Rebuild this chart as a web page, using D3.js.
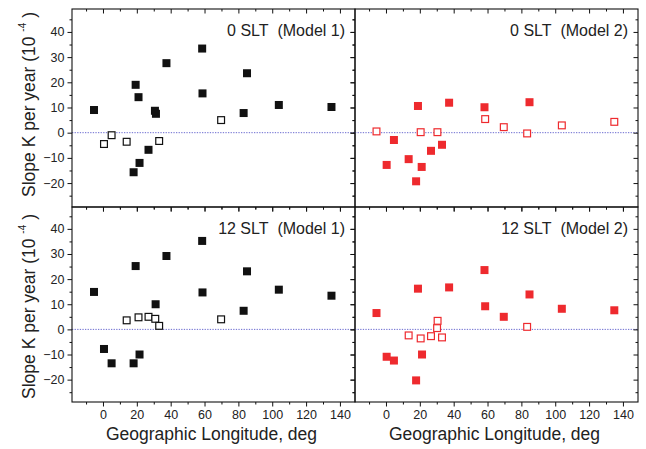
<!DOCTYPE html>
<html>
<head>
<meta charset="utf-8">
<script src="https://cdn.jsdelivr.net/npm/d3@7"></script>
<style>
  body { margin: 0; background: #fff; }
  svg { display: block; font-family: "Liberation Sans", Arial, sans-serif; }
  text { fill: #222; }
</style>
</head>
<body>
<script>
var w = 646;
var h = 449;

// axis ticks
var xTicks = [0, 20, 40, 60, 80, 100, 120, 140];
var xMinor = [-10, 10, 30, 50, 70, 90, 110, 130];
var yTicks = [-20, -10, 0, 10, 20, 30, 40];
var yMinor = [-25, -15, -5, 5, 15, 25, 35, 45];

// 0 SLT, Model 1
var lonA = [-5.3, 19.3, 21.0, 37.5, 58.6, 58.8, 30.7, 31.3, 85.1, 83.1, 103.9, 135, 26.9, 21.6, 18.1];
var kA = [9.0, 19.0, 14.1, 27.6, 33.4, 15.6, 8.7, 7.5, 23.6, 7.8, 11.0, 10.2, -6.8, -12.0, -15.7];
var lonAo = [0.6, 5.1, 14.0, 33.2, 69.8];
var kAo = [-4.5, -1.0, -3.6, -3.3, 5.0];

// 0 SLT, Model 2
var lonB = [18.9, 37.3, 58.2, 84.8, 4.7, 0.4, 13.4, 21.1, 17.8, 26.6, 33.1];
var kB = [10.6, 11.9, 10.1, 12.1, -2.9, -12.8, -10.5, -13.6, -19.3, -7.2, -4.8];
var lonBo = [-5.6, 20.5, 30.4, 58.6, 69.6, 83.4, 103.9, 134.9];
var kBo = [0.5, 0.2, 0.2, 5.4, 2.2, -0.3, 2.9, 4.3];

// 12 SLT, Model 1
var lonC = [-5.3, 19.3, 37.5, 58.6, 58.8, 85.1, 83.1, 103.9, 135, 31.1, 0.6, 5.1, 18.1, 21.6];
var kC = [14.9, 25.2, 29.2, 35.2, 14.7, 23.1, 7.4, 15.8, 13.4, 10.0, -7.8, -13.5, -13.5, -10.0];
var lonCo = [14.0, 21.0, 26.9, 30.9, 33.2, 69.8];
var kCo = [3.6, 4.8, 5.0, 4.2, 1.4, 4.0];

// 12 SLT, Model 2
var lonD = [-5.6, 18.9, 37.3, 58.2, 58.6, 69.6, 84.8, 103.9, 134.9, 0.4, 4.7, 21.3, 17.8];
var kD = [6.5, 16.2, 16.7, 23.6, 9.2, 5.0, 13.9, 8.2, 7.6, -10.9, -12.4, -10.0, -20.3];
var lonDo = [13.4, 20.5, 26.6, 30.5, 30.2, 33.1, 83.4];
var kDo = [-2.4, -3.6, -2.7, 3.4, 0.5, -3.2, 1.0];

var titles = ["0 SLT\u00a0 (Model 1)", "0 SLT\u00a0 (Model 2)", "12 SLT\u00a0 (Model 1)", "12 SLT\u00a0 (Model 2)"];

function pts(lon, k) {
  return lon.map(function (d, i) { return { x: d, y: k[i] }; });
}

var panels = [
  { title: titles[0], col: 0, row: 0, color: "#111", filled: pts(lonA, kA), open: pts(lonAo, kAo) },
  { title: titles[1], col: 1, row: 0, color: "#ee2a2e", filled: pts(lonB, kB), open: pts(lonBo, kBo) },
  { title: titles[2], col: 0, row: 1, color: "#111", filled: pts(lonC, kC), open: pts(lonCo, kCo) },
  { title: titles[3], col: 1, row: 1, color: "#ee2a2e", filled: pts(lonD, kD), open: pts(lonDo, kDo) }
];

var colX = [[72, 355], [355, 638]];
var rowY = [[9, 207], [207, 402]];
var rowDomain = [[-29.5, 49.1], [-28.9, 48.7]];
var labelMid = [104.5, 306.5];

var svg = d3.select("body").append("svg").attr("width", w).attr("height", h);

function ticksOn(g, axis, vals, size) {
  g.call(axis.tickValues(vals).tickSize(size).tickFormat(""));
  g.select(".domain").remove();
  g.selectAll(".tick line").attr("stroke", "#111");
}

panels.forEach(function (p) {
  var x0 = colX[p.col][0], x1 = colX[p.col][1];
  var y0 = rowY[p.row][0], y1 = rowY[p.row][1];
  var x = d3.scaleLinear().domain([-18.3, 148.9]).range([x0, x1]);
  var y = d3.scaleLinear().domain(rowDomain[p.row]).range([y1, y0]);
  var g = svg.append("g");

  // zero line
  g.append("line")
    .attr("x1", x0).attr("x2", x1)
    .attr("y1", y(0)).attr("y2", y(0))
    .attr("stroke", "#6b6bd0")
    .attr("stroke-width", 1)
    .attr("stroke-dasharray", "1.3,1.3");

  // ticks: left/bottom outward, top/right inward
  var bottom = g.append("g").attr("transform", "translate(0," + y1 + ")");
  ticksOn(bottom.append("g"), d3.axisBottom(x), xTicks, 4.5);
  ticksOn(bottom.append("g"), d3.axisBottom(x), xMinor, 2.5);
  var top = g.append("g").attr("transform", "translate(0," + y0 + ")");
  ticksOn(top.append("g"), d3.axisTop(x), xTicks, -4.5);
  ticksOn(top.append("g"), d3.axisTop(x), xMinor, -2.5);
  var left = g.append("g").attr("transform", "translate(" + x0 + ",0)");
  ticksOn(left.append("g"), d3.axisLeft(y), yTicks, 4.5);
  ticksOn(left.append("g"), d3.axisLeft(y), yMinor, 2.5);
  var right = g.append("g").attr("transform", "translate(" + x1 + ",0)");
  ticksOn(right.append("g"), d3.axisRight(y), yTicks, -4.5);
  ticksOn(right.append("g"), d3.axisRight(y), yMinor, -2.5);

  // tick labels
  if (p.col === 0) {
    var yl = g.append("g").attr("transform", "translate(" + x0 + ",0)")
      .call(d3.axisLeft(y).tickValues(yTicks).tickSize(4.5).tickPadding(3));
    yl.select(".domain").remove();
    yl.selectAll(".tick line").remove();
    yl.selectAll("text").attr("font-size", 12.5).attr("font-family", null).attr("fill", "#222");
  }
  if (p.row === 1) {
    var xl = g.append("g").attr("transform", "translate(0," + y1 + ")")
      .call(d3.axisBottom(x).tickValues(xTicks).tickSize(4.5).tickPadding(3.5));
    xl.select(".domain").remove();
    xl.selectAll(".tick line").remove();
    xl.selectAll("text").attr("font-size", 12.5).attr("font-family", null).attr("fill", "#222");
  }

  // frame
  g.append("rect")
    .attr("x", x0).attr("y", y0)
    .attr("width", x1 - x0).attr("height", y1 - y0)
    .attr("fill", "none").attr("stroke", "#111").attr("stroke-width", 1.1);

  // markers
  g.selectAll(".filled")
    .data(p.filled)
    .enter()
    .append("rect")
    .attr("x", function (d) { return x(d.x) - 4; })
    .attr("y", function (d) { return y(d.y) - 4; })
    .attr("width", 8)
    .attr("height", 8)
    .attr("fill", p.color);

  g.selectAll(".open")
    .data(p.open)
    .enter()
    .append("rect")
    .attr("x", function (d) { return x(d.x) - 3.4; })
    .attr("y", function (d) { return y(d.y) - 3.4; })
    .attr("width", 6.8)
    .attr("height", 6.8)
    .attr("fill", "#fff")
    .attr("stroke", p.color)
    .attr("stroke-width", 1.2);

  // panel title
  g.append("text")
    .attr("x", x1 - 10)
    .attr("y", y0 + 26.5)
    .attr("text-anchor", "end")
    .attr("font-size", 16)
    .text(p.title);

  // axis titles
  if (p.row === 1) {
    g.append("text")
      .attr("x", (x0 + x1) / 2 - 2)
      .attr("y", 439.5)
      .attr("text-anchor", "middle")
      .attr("font-size", 17.5)
      .text("Geographic Longitude, deg");
  }
  if (p.col === 0) {
    var t = g.append("text")
      .attr("transform", "translate(35," + labelMid[p.row] + ") rotate(-90)")
      .attr("text-anchor", "middle")
      .attr("font-size", 17.5);
    t.append("tspan").text("Slope K per year (10\u00a0");
    t.append("tspan").attr("dy", -9).attr("font-size", 10).text("-4");
    t.append("tspan").attr("dy", 9).text("\u00a0)");
  }
});
</script>
</body>
</html>
